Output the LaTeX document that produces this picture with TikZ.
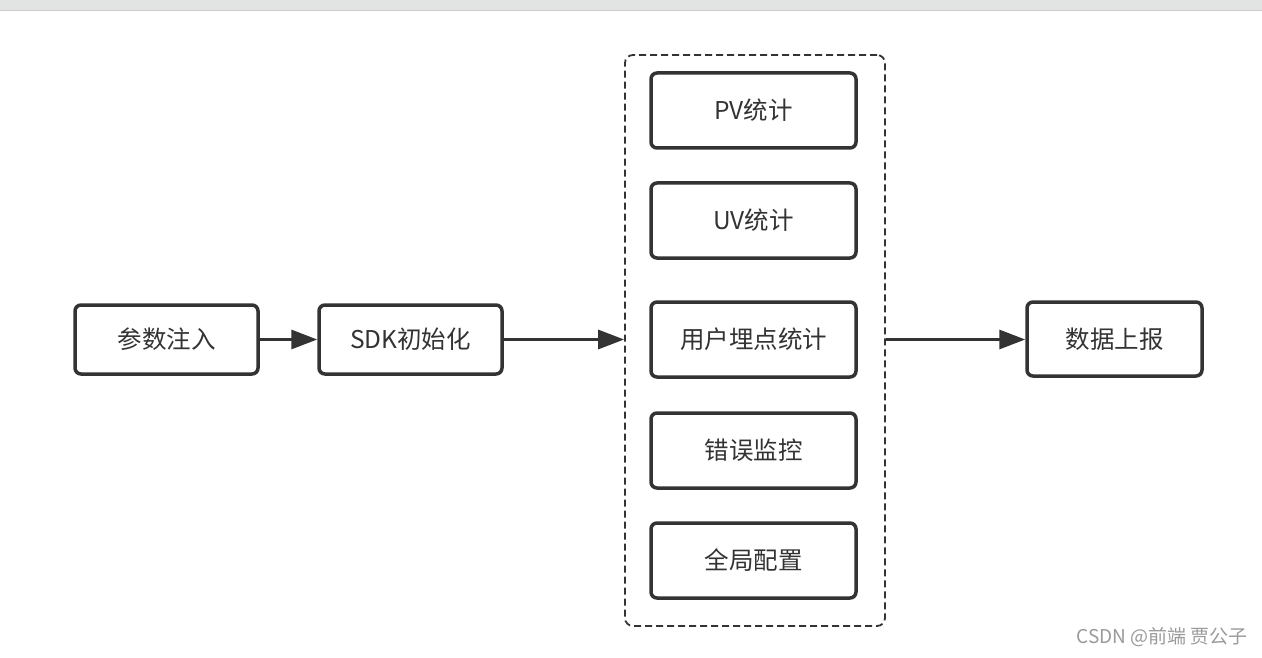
\documentclass[tikz,border=0pt]{standalone}
\usepackage{fontspec}
\setmainfont{Noto Sans CJK SC}
\usetikzlibrary{arrows.meta}
\definecolor{ink}{HTML}{333333}
\definecolor{barcol}{HTML}{E2E4E3}
\definecolor{wm}{HTML}{9A9A9A}
\begin{document}
\begin{tikzpicture}[x=1pt,y=-1pt,
  box/.style={draw=ink,line width=3.5pt,rounded corners=6pt,fill=white,inner sep=0pt,font=\fontsize{24.5}{28}\selectfont,text=ink},
  conn/.style={draw=ink,line width=3.2pt,-{Triangle[length=26pt,width=19pt]}}]
\useasboundingbox (0,0) rectangle (1262,658);
\fill[white] (0,0) rectangle (1262,658);
\fill[barcol] (0,0) rectangle (1262,10);
\draw[color=black!20,line width=1pt] (0,10.5) -- (1262,10.5);
\node[draw=ink,line width=1.8pt,dashed,dash pattern=on 7pt off 4pt,rounded corners=8pt,minimum width=260pt,minimum height=571pt,inner sep=0pt] (grp) at (755,340.5) {};
\node[box,minimum width=183pt,minimum height=69pt] (a) at (166.5,339.5) {参数注入};
\node[box,minimum width=183pt,minimum height=69pt] (b) at (410.5,339.5) {SDK初始化};
\node[box,minimum width=205pt,minimum height=75pt] (m1) at (753.5,110.5) {PV统计};
\node[box,minimum width=205pt,minimum height=75pt] (m2) at (753.5,220.5) {UV统计};
\node[box,minimum width=205pt,minimum height=75pt] (m3) at (753.5,339.5) {用户埋点统计};
\node[box,minimum width=205pt,minimum height=75pt] (m4) at (753.5,450.5) {错误监控};
\node[box,minimum width=205pt,minimum height=75pt] (m5) at (753.5,560.5) {全局配置};
\node[box,minimum width=175pt,minimum height=74pt] (c) at (1114.5,339) {数据上报};
\coordinate (gin) at (grp.west |- a.east);
\coordinate (gout) at (grp.east |- a.east);
\coordinate (cin) at (c.west |- a.east);
\draw[conn] (a.east) -- (b.west);
\draw[conn] (b.east) -- (gin);
\draw[conn] (gout) -- (cin);
\node[text=wm,font=\fontsize{19}{22}\selectfont,anchor=east,inner sep=0pt] (wmk) at (1248,637) {CSDN @前端 贾公子};
\end{tikzpicture}
\end{document}
